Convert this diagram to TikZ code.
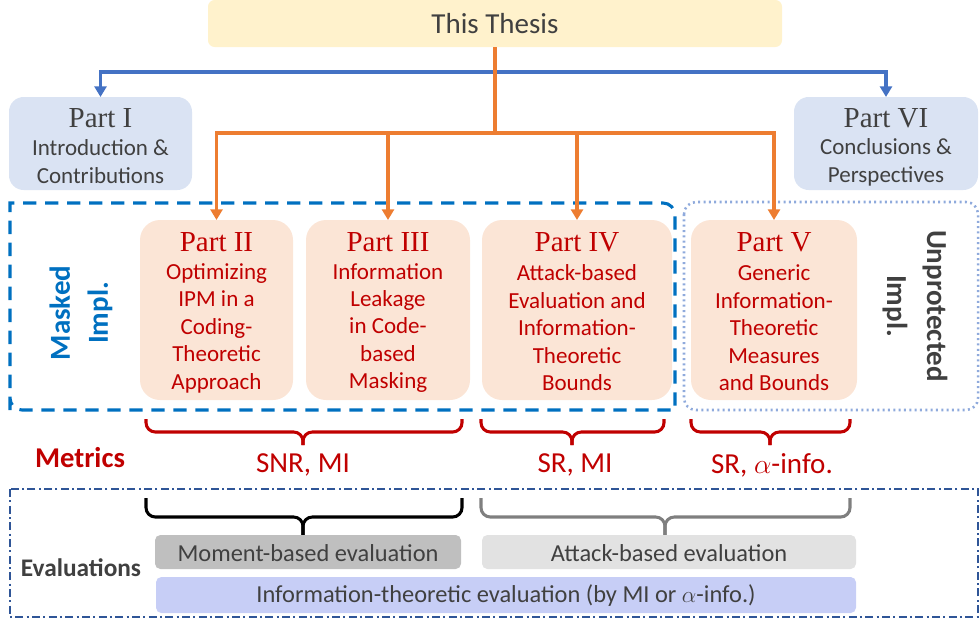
\documentclass[tikz,border=0pt]{standalone}
\usepackage{fontspec}
\setmainfont{Carlito}
\newfontfamily\tnr{Liberation Serif}
\usetikzlibrary{arrows.meta}
\definecolor{thesisfill}{HTML}{FFF2CC}
\definecolor{sidefill}{HTML}{DAE3F3}
\definecolor{partfill}{HTML}{FBE5D6}
\definecolor{partred}{HTML}{C00000}
\definecolor{darktext}{HTML}{404040}
\definecolor{orangeln}{HTML}{ED7D31}
\definecolor{blueln}{HTML}{4472C4}
\definecolor{maskblue}{HTML}{0070C0}
\definecolor{dotblue}{HTML}{8FAADC}
\definecolor{evalblue}{HTML}{2F5597}
\definecolor{momentfill}{HTML}{BFBFBF}
\definecolor{attackfill}{HTML}{E2E2E2}
\definecolor{infofill}{HTML}{C7CEF6}
\definecolor{graybrace}{HTML}{7F7F7F}
\tikzset{
  box/.style={inner sep=0pt, outer sep=0pt},
  thesisbox/.style={box, fill=thesisfill, rounded corners=5pt},
  sidebox/.style={box, fill=sidefill, rounded corners=11pt},
  partbox/.style={box, fill=partfill, rounded corners=15pt},
  evalbox/.style={box, rounded corners=4pt},
  titletext/.style={text=#1, font={\tnr\fontsize{21.75}{26}\selectfont}},
  bodytext/.style={text=#1, align=center, font={\fontsize{17.25}{20.6}\selectfont}},
  bigtext/.style={text=#1, align=center, font={\fontsize{21.75}{26}\selectfont}},
  blueline/.style={draw=blueln, line width=2.5pt},
  orangeline/.style={draw=orangeln, line width=2.5pt},
  tip/.style={-{Triangle[width=9pt,length=8pt]}},
  bracestyle/.style={line width=2.3pt, rounded corners=7pt},
}
\newcommand\mybrace[7]{\draw[bracestyle,draw=#1] (#2,#5) -- (#2,#6) -- (#4,#6) -- (#4,#7);
  \draw[bracestyle,draw=#1] (#3,#5) -- (#3,#6) -- (#4,#6) -- (#4,#7);}
\begin{document}
\begin{tikzpicture}[x=0.75pt,y=-0.75pt]
\useasboundingbox (0,0) rectangle (980,621);

% top
\node[thesisbox, minimum width=430.5pt, minimum height=35.25pt] (th) at (495,23.5) {};
\node[bigtext=darktext] (tht) at (495,24) {This Thesis};

% side parts
\node[sidebox, minimum width=137.25pt, minimum height=69.75pt] (p1) at (100.5,143.5) {};
\node[titletext=darktext] (p1t) at (100.5,118) {Part I};
\node[bodytext=darktext, font={\fontsize{17.25}{21}\selectfont}] (p1b) at (100.5,162) {Introduction \&\\Contributions};
\node[sidebox, minimum width=138pt, minimum height=69.75pt] (p6) at (886,143.5) {};
\node[titletext=darktext] (p6t) at (886,118) {Part VI};
\node[bodytext=darktext, font={\fontsize{17.25}{21}\selectfont}] (p6b) at (886,162) {Conclusions \&\\Perspectives};

% enclosing boxes
\draw[draw=maskblue, line width=2.3pt, dash pattern=on 10pt off 6.5pt]
  (10,410) -- (10,203) [rounded corners=9pt] -- (675,203) [sharp corners] -- (675,410) [rounded corners=9pt] -- (10,410) [sharp corners] -- cycle;
\draw[draw=dotblue, line width=1.9pt, dash pattern=on 1.5pt off 2.5pt, rounded corners=9pt]
  (684,202) rectangle (978,410);
\draw[draw=evalblue, line width=1.3pt, dash pattern=on 6pt off 2.5pt on 1.5pt off 2.5pt]
  (10,489) rectangle (978,617);

% main parts
\node[partbox, minimum width=114.75pt, minimum height=135pt] (p2) at (216.5,310) {};
\node[partbox, minimum width=123pt, minimum height=135pt] (p3) at (388,310) {};
\node[partbox, minimum width=142.5pt, minimum height=135pt] (p4) at (577,310) {};
\node[partbox, minimum width=124.5pt, minimum height=135pt] (p5) at (774,310) {};
\node[titletext=partred] (p2t) at (216.5,242) {Part II};
\node[titletext=partred] (p3t) at (388,242) {Part III};
\node[titletext=partred] (p4t) at (577,242) {Part IV};
\node[titletext=partred] (p5t) at (774,242) {Part V};
\node[bodytext=partred] (p2b) at (216.5,328) {Optimizing\\IPM in a\\Coding-\\Theoretic\\Approach};
\node[bodytext=partred] (p3b) at (388,328) {Information\\Leakage\\in Code-\\based\\Masking};
\node[bodytext=partred] (p4b) at (577,328) {Attack-based\\Evaluation and\\Information-\\Theoretic\\Bounds};
\node[bodytext=partred] (p5b) at (774,328) {Generic\\Information-\\Theoretic\\Measures\\and Bounds};

% side labels
\node[text=maskblue, align=center, rotate=90, font={\bfseries\fontsize{21.75}{28.5}\selectfont}] (mk) at (81,313) {Masked\\Impl.};
\node[text=darktext, align=center, rotate=-90, font={\bfseries\fontsize{21.75}{30}\selectfont}] (up) at (915,306) {Unprotected\\Impl.};

% connectors
\coordinate (bb) at (495,72);
\coordinate (ob) at (495,133);
\draw[blueline, tip] (bb) -| (p1.north);
\draw[blueline, tip] (bb) -| (p6.north);
\draw[orangeline] (th.south) -- (ob);
\draw[orangeline, tip] (ob) -| (p2.north);
\draw[orangeline, tip] (ob) -| (p3.north);
\draw[orangeline, tip] (ob) -| (p4.north);
\draw[orangeline, tip] (ob) -| (p5.north);

% metrics
\mybrace{partred}{146}{462}{303}{419}{432}{445}
\mybrace{partred}{481}{664}{572}{419}{432}{445}
\mybrace{partred}{691}{850}{770}{419}{432}{445}
\node[text=partred, font={\bfseries\fontsize{21.5}{26}\selectfont}] (met) at (80,458) {Metrics};
\node[bigtext=partred] (m1) at (303,465) {SNR, MI};
\node[bigtext=partred] (m2) at (575,465) {SR, MI};
\node[bigtext=partred] (m3) at (772,465) {SR, $\alpha$-info.};

% evaluations
\mybrace{black}{146}{462}{303}{498}{517}{535}
\mybrace{graybrace}{481}{850}{665}{498}{517}{535}
\node[text=darktext, font={\bfseries\fontsize{19}{22}\selectfont}] (ev) at (81,568) {Evaluations};
\node[evalbox, fill=momentfill, minimum width=229.5pt, minimum height=25.5pt] (mo) at (308,552) {};
\node[bodytext=darktext, font={\fontsize{18.3}{22}\selectfont}] (mot) at (308,553) {Moment-based evaluation};
\node[evalbox, fill=attackfill, minimum width=280.5pt, minimum height=25.5pt] (at) at (669,552) {};
\node[bodytext=darktext, font={\fontsize{18.3}{22}\selectfont}] (att) at (669,553) {Attack-based evaluation};
\node[evalbox, fill=infofill, minimum width=525pt, minimum height=27pt] (inf) at (506,595) {};
\node[bodytext=darktext, font={\fontsize{18.3}{22}\selectfont}] (inft) at (506,596) {Information-theoretic evaluation (by MI or $\alpha$-info.)};
\end{tikzpicture}
\end{document}
